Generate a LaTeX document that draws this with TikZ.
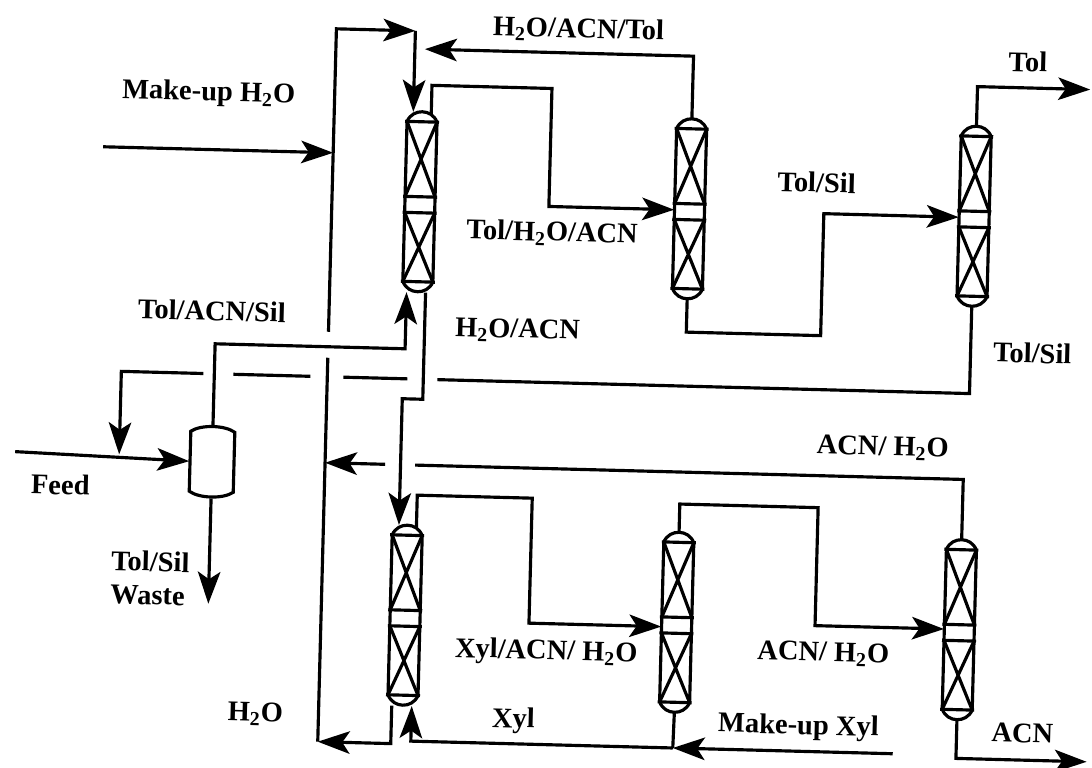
\documentclass[tikz,border=0pt]{standalone}
\usepackage{fontspec}
\setmainfont{Liberation Serif}
\usetikzlibrary{arrows.meta, positioning, calc}
\newcommand{\water}{H\textsubscript{2}O}

\begin{document}
\begin{tikzpicture}[
    x=0.02cm, y=-0.02cm,
    column/.style={rectangle, minimum width=0.6cm, minimum height=3.6cm, inner sep=0pt},
    drum/.style={rectangle, minimum width=0.9cm, minimum height=1.46cm, inner sep=0pt},
    vessel/.style={line width=1.8pt},
    pipe/.style={line width=1.8pt},
    arrow/.style={-{Stealth[length=6.4mm, width=4.5mm, inset=1.5mm]}, line width=1.8pt},
    tag/.style={font=\bfseries\fontsize{16.2}{19}\selectfont, align=left, inner sep=0pt}
]
\path[use as bounding box] (0cm,0cm) rectangle (21.84cm,-15.36cm);

% the whole sheet sits slightly skewed
\begin{scope}[transform canvas={rotate=-1.5}]

% Upper train
\node[column] (colA) at (425,191) {};
\node[column, right=4.78cm of colA] (colB) {};
\node[column, right=5.08cm of colB] (colC) {};

% Lower train
\node[column, below=4.66cm of colA, xshift=-0.08cm] (colD) {};
\node[column, right=4.82cm of colD] (colE) {};
\node[column, right=5.04cm of colE] (colF) {};

% Decanter
\node[drum] (drum) at (224,456) {};

% Column internals
\foreach \c in {colA,colB,colC,colD,colE,colF} {
  \begin{scope}[shift={(\c.north)}]
    \draw[vessel] (-15,10) .. controls (-12,3) and (-6,0) .. (0,0) .. controls (6,0) and (12,3) .. (15,10);
    \draw[vessel] (-15,170) .. controls (-12,177) and (-6,180) .. (0,180) .. controls (6,180) and (12,177) .. (15,170);
    \draw[vessel] (-15,10) -- (-15,170) (15,10) -- (15,170);
    \foreach \y in {10,85,101,170} {
      \draw[vessel] (-17,\y) -- (17,\y);
    }
    \draw[vessel] (-15,10) -- (15,85) (15,10) -- (-15,85);
    \draw[vessel] (-15,101) -- (15,170) (15,101) -- (-15,170);
  \end{scope}
}

% Decanter outline
\begin{scope}[shift={(drum.center)}]
  \draw[vessel] (-22,-30) .. controls (-12,-37) and (12,-37) .. (22,-30) -- (22,30)
    .. controls (12,37) and (-12,37) .. (-22,30) -- cycle;
\end{scope}

% Free ends and corners
\coordinate (recTop) at (337,323);
\coordinate (recEnd) at (416,20);
\coordinate (recMid) at (337,349);
\coordinate (colAin) at (416,101);
\coordinate (waterIn) at (107,144);
\coordinate (waterHit) at (337,144);
\coordinate (backTip) at (426,38);
\coordinate (feedIn) at (27,451);
\coordinate (feedJoin) at (131,451);
\coordinate (wasteEnd) at (224,598);
\coordinate (tolEnd) at (1092,61);
\coordinate (acnEnd) at (1106,733);
\coordinate (xylIn) at (912,730);
\coordinate (xylJoin) at (692,730);
\coordinate (recLow) at (337,733);

% Upper train flow
\draw[arrow] (recTop) |- (recEnd);
\draw[arrow] (recEnd) -- (colAin);
\draw[arrow] (waterIn) -- (waterHit);
\draw[arrow] (colB.north) |- (backTip);
\draw[arrow] ($(colA.north)+(9,3)$) |- (554,74) |- (colB.west |- 0,192);
\draw[arrow] (colB.south) |- (829,314) |- (colC.west |- 0,192);
\draw[arrow] (colC.north) |- (tolEnd);

% Decanter feed and outlets
\draw[arrow] (feedIn) -- (drum.west);
\draw[arrow] (drum.south) -- (wasteEnd);
\draw[arrow] (drum.north) |- (414,338) -- ($(colA.south)+(-11,0)$);

% Tol/Sil recycle, broken at the crossings
\coordinate (tsA) at (447,368);
\coordinate (tsB) at (417,368);
\coordinate (tsC) at (353,368);
\coordinate (tsD) at (320,368);
\coordinate (tsE) at (243,368);
\coordinate (tsF) at (213,368);
\draw[pipe] (colC.south) |- (tsA);
\draw[pipe] (tsB) -- (tsC);
\draw[pipe] (tsD) -- (tsE);
\draw[arrow] (tsF) -| (feedJoin);

% H2O/ACN down to lower train
\draw[arrow] ($(colA.south)+(8,0)$) |- (412.5,388) -- ($(colD.north)+(-8.5,0)$);

% Lower train flow
\draw[arrow] ($(colD.north)+(9,3)$) |- (545,484) |- (colE.west |- 0,609);
\draw[arrow] (colE.north) |- (831,486) |- (colF.west |- 0,604);

% ACN/H2O recycle, broken at the crossing
\coordinate (anA) at (427,454);
\coordinate (anB) at (397,454);
\draw[pipe] (colF.north) |- (anA);
\draw[arrow] (anB) -- (recMid |- anB);

% Water return line
\draw[pipe] (recMid) -- (recLow);
\draw[arrow] ($(colD.south)+(-11,0)$) |- (recLow);

% Xylene
\draw[pipe] (colE.south) -- (xylJoin);
\draw[arrow] (xylJoin) -| ($(colD.south)+(9,0)$);
\draw[arrow] (xylIn) -- (xylJoin);

% ACN product
\draw[arrow] (colF.south) |- (acnEnd);

% Labels
\node[tag] (lblBack) at (579,15) {\water/ACN/Tol};
\node[tag] (lblTol) at (1029,35) {Tol};
\node[tag] (lblWater) at (211,88) {Make-up \water};
\node[tag] (lblTop) at (558,219) {Tol/\water/ACN};
\node[tag] (lblTolSil) at (821,161) {Tol/Sil};
\node[tag] (lblOver) at (220,305) {Tol/ACN/Sil};
\node[tag] (lblBottom) at (526,317) {\water/ACN};
\node[tag] (lblRecycle) at (1041,326) {Tol/Sil};
\node[tag] (lblAcnTop) at (894,425) {ACN/ \water};
\node[tag] (lblFeed) at (73,483) {Feed};
\node[tag] (lblWaste) at (165,574) {Tol/Sil\\Waste};
\node[tag] (lblXylMix) at (563,638) {Xyl/ACN/ \water};
\node[tag] (lblXyl) at (532,707) {Xyl};
\node[tag] (lblRetWater) at (274,707) {\water};
\node[tag] (lblAcnMid) at (840,632) {ACN/ \water};
\node[tag] (lblMakeXyl) at (817,706) {Make-up Xyl};
\node[tag] (lblAcn) at (1041,706) {ACN};

\end{scope}
\end{tikzpicture}
\end{document}
